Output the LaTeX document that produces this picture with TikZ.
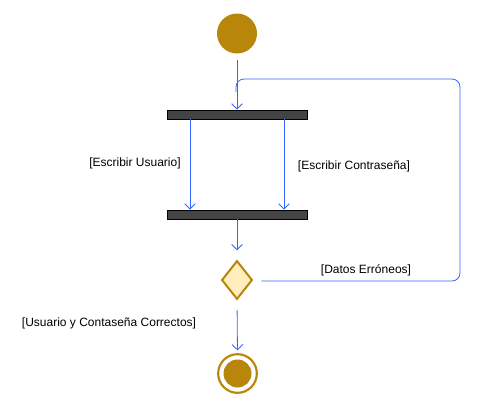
\documentclass[tikz,border=0pt]{standalone}
\usepackage{fontspec}
\setmainfont{Liberation Sans}
\usetikzlibrary{shapes.geometric,arrows.meta}
\definecolor{gold}{RGB}{184,134,11}
\definecolor{flow}{RGB}{51,102,255}
\definecolor{barc}{RGB}{68,68,68}
\definecolor{decfill}{RGB}{255,238,187}
\tikzset{
  initnode/.style={circle,fill=gold,inner sep=0pt,minimum size=30pt},
  barnode/.style={rectangle,fill=barc,draw=black,line width=0.6pt,inner sep=0pt,minimum width=105pt,minimum height=6.75pt},
  decnode/.style={diamond,fill=decfill,draw=gold,line width=1.5pt,inner sep=0pt,minimum width=23pt,minimum height=29pt,aspect=0.8},
  finalnode/.style={circle,draw=gold,line width=1.6pt,inner sep=0pt,minimum size=29pt},
  finalin/.style={circle,fill=gold,inner sep=0pt,minimum size=21pt},
  arr/.style={draw=flow,line width=0.6pt,-{Straight Barb[length=4pt,width=8pt,line width=0.6pt]}},
  lnk/.style={draw=flow,line width=0.6pt},
  lbl/.style={font=\fontsize{9}{11}\selectfont,text=black,inner sep=0pt}
}
\begin{document}
\begin{tikzpicture}[x=0.75pt,y=-0.75pt]
\useasboundingbox (0,0) rectangle (481,408);
\node[initnode] (init) at (237,33.5) {};
\node[barnode] (fork1) at (237,114.5) {};
\node[barnode] (fork2) at (237,214.5) {};
\node[decnode] (dec) at (237,280) {};
\node[finalnode] (final) at (237.5,373.5) {};
\node[finalin] (finalc) at (237.5,373.5) {};
\coordinate (c1) at (190,0);
\coordinate (c2) at (284,0);
\coordinate (lr) at (460,281);
\coordinate (lt) at (460,79);
\coordinate (lm) at (236,79);
\coordinate (lj) at (236,92);
\draw[arr,shorten <=4.5pt] (init.south -| fork1.north) -- (fork1.north);
\draw[arr] (fork1.south -| c1) -- (fork2.north -| c1);
\draw[arr] (fork1.south -| c2) -- (fork2.north -| c2);
\draw[arr,shorten >=7pt] (fork2.south) -- (dec.north);
\draw[arr,shorten <=7.5pt,shorten >=2pt] (dec.south) -- (final.north);
\draw[lnk,rounded corners=6pt,shorten <=6pt] (dec.east |- lr) -- (lr) -- (lt) -- (lm) -- (lj);
\node[lbl] (l1) at (135,163) {[Escribir Usuario]};
\node[lbl] (l2) at (354,166) {[Escribir Contraseña]};
\node[lbl] (l3) at (366,270) {[Datos Erróneos]};
\node[lbl] (l4) at (109,323) {[Usuario y Contaseña Correctos]};
\end{tikzpicture}
\end{document}
